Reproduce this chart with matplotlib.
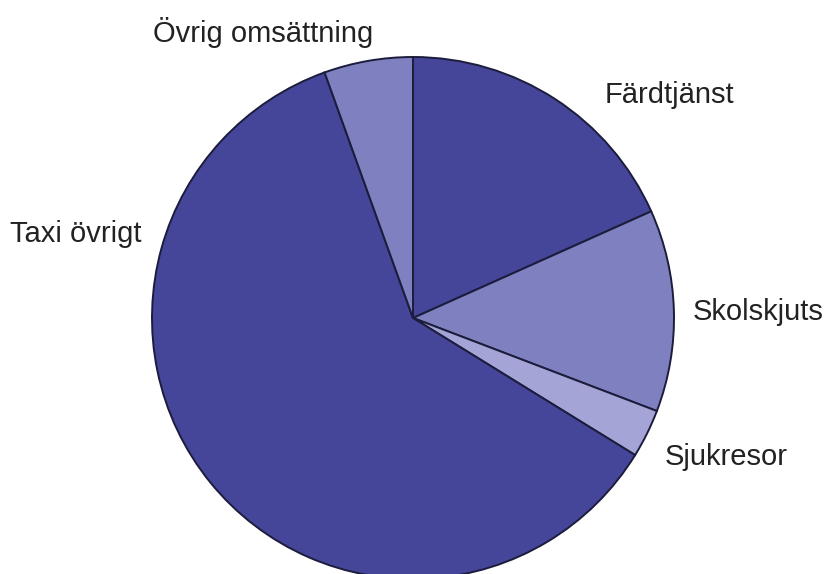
import matplotlib.pyplot as plt

# Andelar av omsättningen (%), medurs från klockan 12
labels = ["Färdtjänst", "Skolskjuts", "Sjukresor", "Taxi övrigt", "Övrig omsättning"]
shares = [18.3, 12.5, 3.0, 60.7, 5.5]
colors = ["#45469a", "#7f80bf", "#a4a5d6", "#45469a", "#7f80bf"]

# label anchor (left x, baseline y) in image pixels from top-left
label_pos = [(605, 103), (693, 320), (665, 465), (10, 242), (153, 42)]

W, H = 829, 574
fig = plt.figure(figsize=(W / 100, H / 100), dpi=100)
ax = fig.add_axes([0, 0, 1, 1])
ax.set_xlim(0, W)
ax.set_ylim(0, H)
ax.set_aspect("equal")
ax.axis("off")

ax.pie(shares, colors=colors, startangle=90, counterclock=False,
       center=(413, H - 318), radius=261,
       wedgeprops=dict(edgecolor="#1c1c3c", linewidth=1.4))
ax.set_xlim(0, W)
ax.set_ylim(0, H)

for lab, (x, y) in zip(labels, label_pos):
    ax.text(x, H - y, lab, fontsize=21, family="Liberation Sans",
            color="#222222", ha="left", va="baseline")

fig.savefig("out.png", dpi=100)
